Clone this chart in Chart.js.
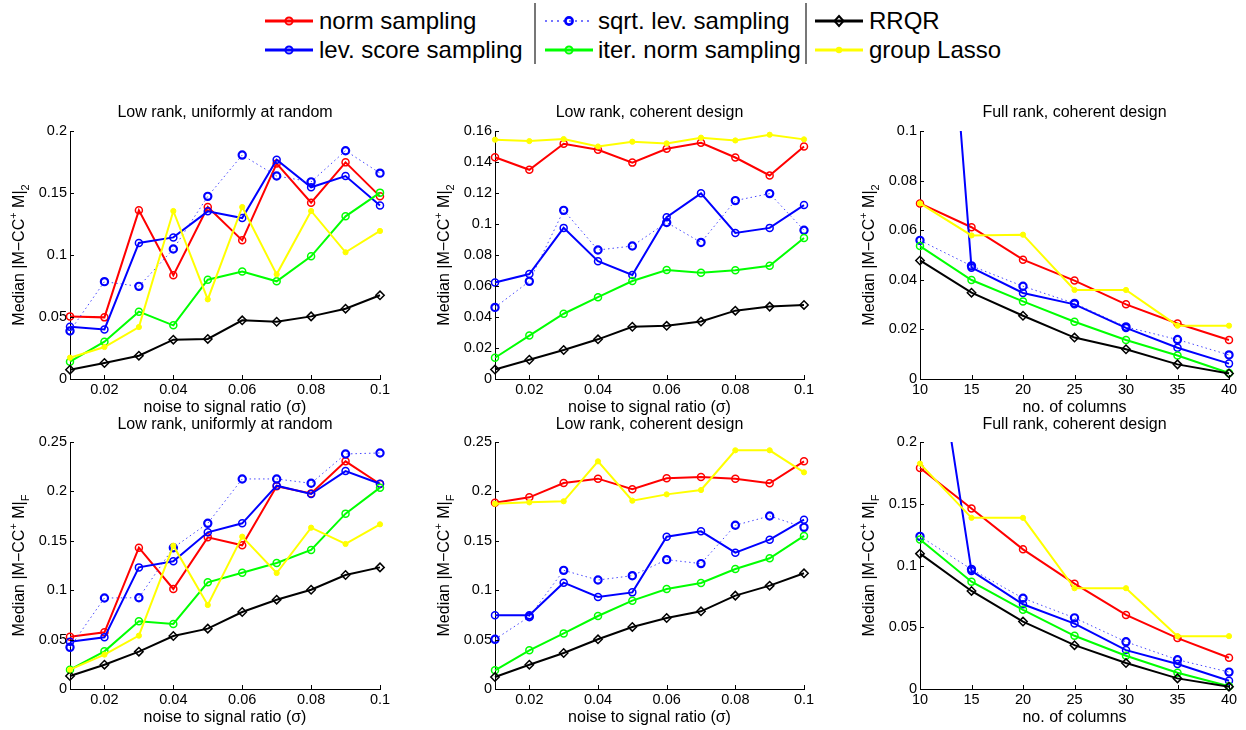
<!DOCTYPE html>
<html><head><meta charset="utf-8">
<script src="https://cdn.jsdelivr.net/npm/chart.js@4.4.1/dist/chart.umd.min.js"></script>
<style>
html,body{margin:0;padding:0;background:#fff;width:1246px;height:730px;overflow:hidden;}
#wrap{position:relative;width:1246px;height:730px;font-family:"Liberation Sans",Arial,Helvetica,sans-serif;}
canvas{position:absolute;}
.lgt{position:absolute;font-size:24px;line-height:28px;color:#000;white-space:nowrap;}
.sw{position:absolute;}
.sep{position:absolute;width:2px;background:#777;}
</style></head><body><div id="wrap"></div>
<script>
// ---------- data ----------
const noiseRatio = [0.01,0.02,0.03,0.04,0.05,0.06,0.07,0.08,0.09,0.1];
const numColumns = [10,15,20,25,30,35,40];

const noiseTicks = [0.02,0.04,0.06,0.08,0.1];
const noiseTickLabels = ['0.02','0.04','0.06','0.08','0.1'];
const colTicks = [10,15,20,25,30,35,40];
const colTickLabels = ['10','15','20','25','30','35','40'];

const yTicksA2 = [0,0.05,0.1,0.15,0.2];
const yLabelsA2 = ['0','0.05','0.1','0.15','0.2'];
const yTicksB2 = [0,0.02,0.04,0.06,0.08,0.1,0.12,0.14,0.16];
const yLabelsB2 = ['0','0.02','0.04','0.06','0.08','0.1','0.12','0.14','0.16'];
const yTicksC2 = [0,0.02,0.04,0.06,0.08,0.1];
const yLabelsC2 = ['0','0.02','0.04','0.06','0.08','0.1'];
const yTicksF25 = [0,0.05,0.1,0.15,0.2,0.25];
const yLabelsF25 = ['0','0.05','0.1','0.15','0.2','0.25'];
const yTicksF20 = [0,0.05,0.1,0.15,0.2];
const yLabelsF20 = ['0','0.05','0.1','0.15','0.2'];

const seriesNames = ['norm sampling','lev. score sampling','sqrt. lev. sampling','iter. norm sampling','RRQR','group Lasso'];

// Panel A: low rank, uniformly at random, spectral norm
const normA2  = [0.0505,0.0497,0.136,0.0836,0.1387,0.1118,0.1737,0.1422,0.1747,0.1473];
const levA2   = [0.0422,0.040,0.1097,0.1142,0.1352,0.1298,0.1769,0.1546,0.1637,0.140];
const sqrtA2  = [0.0387,0.0785,0.0747,0.1048,0.1473,0.1806,0.1637,0.159,0.1841,0.166];
const iterA2  = [0.014,0.0301,0.0543,0.0433,0.0801,0.0866,0.0788,0.0989,0.1312,0.1503];
const rrqrA2  = [0.0075,0.0129,0.0188,0.0317,0.0323,0.0473,0.0462,0.0505,0.0567,0.0675];
const lassoA2 = [0.0172,0.0258,0.0419,0.1355,0.0642,0.1387,0.0844,0.1355,0.1022,0.1194];

// Panel B: low rank, coherent design, spectral norm
const normB2  = [0.1431,0.135,0.1518,0.1479,0.1396,0.1485,0.1524,0.1429,0.1313,0.150];
const levB2   = [0.0623,0.0677,0.0975,0.076,0.0671,0.1044,0.1198,0.0942,0.0975,0.1122];
const sqrtB2  = [0.0462,0.063,0.1088,0.0832,0.0858,0.101,0.0881,0.1151,0.1196,0.096];
const iterB2  = [0.0137,0.028,0.0421,0.0528,0.0632,0.0703,0.0686,0.0701,0.073,0.091];
const rrqrB2  = [0.0061,0.0124,0.0187,0.0256,0.0337,0.0343,0.0371,0.0441,0.0467,0.0478];
const lassoB2 = [0.1544,0.1535,0.1548,0.150,0.1531,0.152,0.1557,0.1539,0.1576,0.1546];

// Panel C: full rank, coherent design, spectral norm
const normC2  = [0.0708,0.0612,0.0481,0.0397,0.0301,0.0224,0.0157];
const levC2   = [0.31,0.0449,0.0347,0.0301,0.0206,0.0126,0.0062];
const sqrtC2  = [0.0559,0.0456,0.0374,0.0305,0.021,0.0159,0.0097];
const iterC2  = [0.0536,0.0399,0.0313,0.0231,0.0157,0.0095,0.0024];
const rrqrC2  = [0.0478,0.0348,0.0255,0.0167,0.012,0.0059,0.0022];
const lassoC2 = [0.0708,0.0579,0.0582,0.0359,0.0359,0.0215,0.0215];

// Panel D: low rank, uniformly at random, Frobenius norm
const normDF  = [0.053,0.0574,0.143,0.1012,0.1535,0.1454,0.2051,0.198,0.2304,0.2075];
const levDF   = [0.0479,0.0523,0.1231,0.1292,0.1586,0.1677,0.2058,0.1974,0.2206,0.2078];
const sqrtDF  = [0.0422,0.0921,0.0924,0.143,0.1677,0.2126,0.2126,0.2082,0.2379,0.2389];
const iterDF  = [0.0196,0.0381,0.0685,0.0658,0.108,0.1177,0.1275,0.1407,0.1775,0.2038];
const rrqrDF  = [0.0132,0.0246,0.0378,0.0536,0.0611,0.0779,0.0904,0.1005,0.1154,0.1231];
const lassoDF = [0.0196,0.0348,0.054,0.1451,0.085,0.1542,0.1174,0.1633,0.1468,0.1667];

// Panel E: low rank, coherent design, Frobenius norm
const normEF  = [0.1886,0.194,0.2085,0.2129,0.2021,0.2132,0.2146,0.2129,0.2082,0.2304];
const levEF   = [0.0746,0.0746,0.1076,0.0931,0.0978,0.1542,0.1596,0.138,0.1511,0.1714];
const sqrtEF  = [0.0503,0.0732,0.1201,0.1103,0.1147,0.1309,0.1269,0.1657,0.1751,0.1636];
const iterEF  = [0.0189,0.0391,0.0563,0.0739,0.0894,0.1012,0.1073,0.1215,0.1323,0.1549];
const rrqrEF  = [0.0121,0.0246,0.0364,0.0503,0.0628,0.0719,0.0786,0.0945,0.1046,0.1171];
const lassoEF = [0.1876,0.1889,0.19,0.2304,0.1906,0.197,0.2014,0.2416,0.2416,0.2193];

// Panel F: full rank, coherent design, Frobenius norm
const normFF  = [0.179,0.1462,0.1131,0.0853,0.06,0.0412,0.0253];
const levFF   = [0.365,0.0956,0.0686,0.053,0.0315,0.0202,0.0067];
const sqrtFF  = [0.1236,0.0969,0.0735,0.0576,0.0382,0.0237,0.0137];
const iterFF  = [0.1211,0.0869,0.0641,0.0431,0.0269,0.0132,0.0022];
const rrqrFF  = [0.1096,0.0794,0.0546,0.0355,0.021,0.0086,0.0019];
const lassoFF = [0.1825,0.1386,0.1386,0.0816,0.0816,0.0428,0.0428];

// ---------- styles ----------
const FONT = '"Liberation Sans", Arial, Helvetica, sans-serif';
Chart.defaults.font.family = FONT;
Chart.defaults.color = '#000';

const styles = [
  {color:'#ff0000', width:2, dash:[], pstyle:'circle', r:3.5, pbw:1.5, fill:'rgba(0,0,0,0)', order:6},
  {color:'#0000ff', width:2, dash:[], pstyle:'circle', r:3.5, pbw:1.5, fill:'rgba(0,0,0,0)', order:5},
  {color:'#0000ff', width:1, dash:[1.5,3], pstyle:'circle', r:3.6, pbw:2.2, fill:'rgba(0,0,0,0)', order:4, lineColor:'rgba(40,40,255,0.85)'},
  {color:'#00ff00', width:2, dash:[], pstyle:'circle', r:3.5, pbw:1.5, fill:'rgba(0,0,0,0)', order:3},
  {color:'#000000', width:2, dash:[], pstyle:'rectRot', r:4.2, pbw:1.5, fill:'rgba(0,0,0,0)', order:2},
  {color:'#ffff00', width:2, dash:[], pstyle:'circle', r:2.6, pbw:1, fill:'#ffff00', order:1}
];

function makeDatasets(xs, vals){
  return vals.map((v,i)=>{
    const s = styles[i];
    return {
      label: seriesNames[i],
      data: xs.map((x,j)=>({x:x, y:v[j]})),
      borderColor: s.lineColor || s.color,
      borderWidth: s.width,
      borderDash: s.dash,
      pointStyle: s.pstyle,
      pointRadius: s.r,
      pointBorderWidth: s.pbw,
      pointBorderColor: s.color,
      pointBackgroundColor: s.fill,
      backgroundColor: s.fill,
      fill: false,
      tension: 0,
      order: s.order,
      clip: {left: 12, right: 12, top: 0, bottom: 12}
    };
  });
}

// ---------- plugins ----------
const inTicks = {
  id:'inticks',
  afterDraw(chart){
    const {ctx, chartArea:{left,bottom}} = chart;
    const xs = chart.scales.x, ys = chart.scales.y;
    ctx.save(); ctx.strokeStyle='#000'; ctx.lineWidth=1; ctx.beginPath();
    xs.ticks.forEach(t=>{const p=Math.round(xs.getPixelForValue(t.value))+0.5; ctx.moveTo(p,bottom); ctx.lineTo(p,bottom-4);});
    ys.ticks.forEach(t=>{const p=Math.round(ys.getPixelForValue(t.value))+0.5; ctx.moveTo(left,p); ctx.lineTo(left+4,p);});
    ctx.stroke(); ctx.restore();
  }
};
const yTitle = {
  id:'ytitle',
  afterDraw(chart, args, opts){
    const {ctx, chartArea} = chart;
    const bx = chartArea.left - 46, cy = (chartArea.top + chartArea.bottom)/2;
    const main = '16px ' + FONT, small = '11px ' + FONT;
    const parts = [
      {t:'Median |M\u2212CC', f:main, dy:0},
      {t:'+', f:small, dy:-7},
      {t:' M|', f:main, dy:0},
      {t:opts.sub, f:small, dy:5}
    ];
    ctx.save();
    ctx.translate(bx, cy); ctx.rotate(-Math.PI/2);
    ctx.fillStyle='#000'; ctx.textBaseline='alphabetic'; ctx.textAlign='left';
    let total=0;
    parts.forEach(p=>{ctx.font=p.f; p.w=ctx.measureText(p.t).width; total+=p.w;});
    let x=-total/2;
    parts.forEach(p=>{ctx.font=p.f; ctx.fillText(p.t, x, p.dy); x+=p.w;});
    ctx.restore();
  }
};

// ---------- panels ----------
const topPad = {top:12.4, bottom:8.4};
const botPad = {top:13.4, bottom:7.4};
const panels = [
  {left:0,   top:91,  w:400, h:328, padR:20, title:'Low rank, uniformly at random', tp:topPad, xs:noiseRatio, xMin:0.01, xMax:0.1, xt:noiseTicks, xl:noiseTickLabels, xTitle:'noise to signal ratio (\u03c3)', yMax:0.2,  yt:yTicksA2, yl:yLabelsA2, sub:'2', vals:[normA2,levA2,sqrtA2,iterA2,rrqrA2,lassoA2]},
  {left:425, top:91,  w:399, h:328, padR:20, title:'Low rank, coherent design', tp:topPad, xs:noiseRatio, xMin:0.01, xMax:0.1, xt:noiseTicks, xl:noiseTickLabels, xTitle:'noise to signal ratio (\u03c3)', yMax:0.16, yt:yTicksB2, yl:yLabelsB2, sub:'2', vals:[normB2,levB2,sqrtB2,iterB2,rrqrB2,lassoB2]},
  {left:850, top:91,  w:395, h:328, padR:16, title:'Full rank, coherent design', tp:topPad, xs:numColumns, xMin:10, xMax:40, xt:colTicks, xl:colTickLabels, xTitle:'no. of columns', yMax:0.1, yt:yTicksC2, yl:yLabelsC2, sub:'2', vals:[normC2,levC2,sqrtC2,iterC2,rrqrC2,lassoC2]},
  {left:0,   top:402, w:400, h:327, padR:20, title:'Low rank, uniformly at random', tp:botPad, xs:noiseRatio, xMin:0.01, xMax:0.1, xt:noiseTicks, xl:noiseTickLabels, xTitle:'noise to signal ratio (\u03c3)', yMax:0.25, yt:yTicksF25, yl:yLabelsF25, sub:'F', vals:[normDF,levDF,sqrtDF,iterDF,rrqrDF,lassoDF]},
  {left:425, top:402, w:399, h:327, padR:20, title:'Low rank, coherent design', tp:botPad, xs:noiseRatio, xMin:0.01, xMax:0.1, xt:noiseTicks, xl:noiseTickLabels, xTitle:'noise to signal ratio (\u03c3)', yMax:0.25, yt:yTicksF25, yl:yLabelsF25, sub:'F', vals:[normEF,levEF,sqrtEF,iterEF,rrqrEF,lassoEF]},
  {left:850, top:402, w:395, h:327, padR:16, title:'Full rank, coherent design', tp:botPad, xs:numColumns, xMin:10, xMax:40, xt:colTicks, xl:colTickLabels, xTitle:'no. of columns', yMax:0.2, yt:yTicksF20, yl:yLabelsF20, sub:'F', vals:[normFF,levFF,sqrtFF,iterFF,rrqrFF,lassoFF]}
];

const wrap = document.getElementById('wrap');
panels.forEach(p=>{
  const c = document.createElement('canvas');
  c.width = p.w; c.height = p.h;
  c.style.left = p.left+'px'; c.style.top = p.top+'px';
  c.style.width = p.w+'px'; c.style.height = p.h+'px';
  wrap.appendChild(c);
  new Chart(c, {
    type:'line',
    data:{datasets: makeDatasets(p.xs, p.vals)},
    options:{
      responsive:false, animation:false, devicePixelRatio:1,
      layout:{padding:{left:0, right:p.padR, top:0, bottom:2}},
      plugins:{
        legend:{display:false}, tooltip:{enabled:false},
        title:{display:true, text:p.title, fullSize:false, color:'#000', font:{size:16, weight:'normal'}, padding:p.tp},
        ytitle:{sub:p.sub}
      },
      scales:{
        x:{type:'linear', min:p.xMin, max:p.xMax,
           afterBuildTicks: s=>{ s.ticks = p.xt.map(v=>({value:v})); },
           afterFit: s=>{ s.height = 38; },
           ticks:{autoSkip:false, maxRotation:0, padding:2.5, color:'#000', font:{size:14.5}, callback:(v,i)=>p.xl[i]},
           grid:{drawOnChartArea:false, drawTicks:false},
           border:{display:true, color:'#000', width:1},
           title:{display:true, text:p.xTitle, color:'#000', font:{size:16}, padding:0}
        },
        y:{type:'linear', min:0, max:p.yMax,
           afterBuildTicks: s=>{ s.ticks = p.yt.map(v=>({value:v})); },
           afterFit: s=>{ s.width = 70; },
           ticks:{autoSkip:false, padding:3, color:'#000', font:{size:14.5}, callback:(v,i)=>p.yl[i]},
           grid:{drawOnChartArea:false, drawTicks:false},
           border:{display:true, color:'#000', width:1}
        }
      }
    },
    plugins:[inTicks, yTitle]
  });
});

// ---------- legend (HTML) ----------
const legendCols = [
  {sx:265, tx:319, items:[0,1]},
  {sx:545, tx:598, items:[2,3]},
  {sx:815, tx:869, items:[4,5]}
];
const rowLine = [21, 50];
const rowTextTop = [7, 36];
function sampleSVG(i){
  const s = styles[i];
  const lc = s.lineColor || s.color;
  const lw = i===2 ? 1.5 : 3;
  const dash = i===2 ? 'stroke-dasharray="2 4"' : '';
  let mk;
  if (s.pstyle==='rectRot') mk = `<polygon points="24,2 28.5,7 24,12 19.5,7" fill="none" stroke="${s.color}" stroke-width="2"/>`;
  else if (i===5) mk = `<circle cx="24" cy="7" r="3.2" fill="${s.color}"/>`;
  else if (i===2) mk = `<circle cx="24" cy="7" r="3.6" fill="none" stroke="${s.color}" stroke-width="2.6"/>`;
  else mk = `<circle cx="24" cy="7" r="3.6" fill="none" stroke="${s.color}" stroke-width="2"/>`;
  return `<svg width="48" height="14" viewBox="0 0 48 14"><line x1="0" y1="7" x2="48" y2="7" stroke="${lc}" stroke-width="${lw}" ${dash}/>${mk}</svg>`;
}
legendCols.forEach(col=>{
  col.items.forEach((i,r)=>{
    const sw = document.createElement('div');
    sw.className='sw'; sw.style.left=col.sx+'px'; sw.style.top=(rowLine[r]-7)+'px';
    sw.innerHTML = sampleSVG(i);
    wrap.appendChild(sw);
    const t = document.createElement('div');
    t.className='lgt'; t.style.left=col.tx+'px'; t.style.top=rowTextTop[r]+'px';
    t.textContent = seriesNames[i];
    wrap.appendChild(t);
  });
});
[535, 806].forEach(x=>{
  const d=document.createElement('div'); d.className='sep';
  d.style.left=(x-1)+'px'; d.style.top='3px'; d.style.height='61px';
  wrap.appendChild(d);
});
</script></body></html>
